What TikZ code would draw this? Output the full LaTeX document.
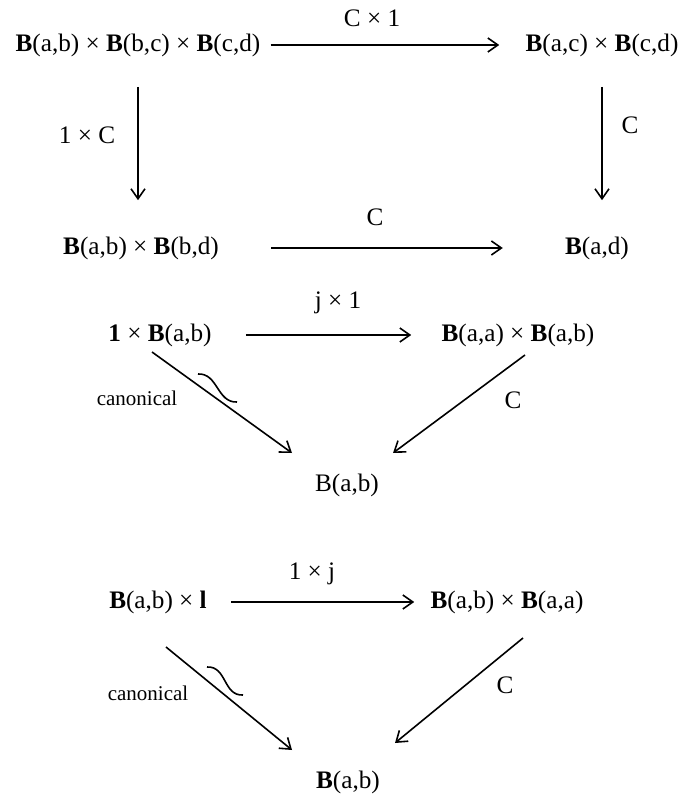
\documentclass[tikz,border=0pt]{standalone}
\usepackage{fontspec}
\setmainfont{Liberation Serif}
\usetikzlibrary{arrows.meta,positioning}
\tikzset{
  obj/.style = {inner sep=2pt, font=\fontsize{12.6}{15}\selectfont},
  lbl/.style = {inner sep=1pt, font=\fontsize{12.6}{15}\selectfont},
  note/.style = {inner sep=1pt, font=\fontsize{10.5}{12}\selectfont},
  arrow/.style = {line width=0.8pt, -{Straight Barb[length=5pt,width=7pt]}},
  iso/.style = {line width=0.8pt}
}

\begin{document}
\begin{tikzpicture}[x=0.5pt, y=-0.5pt]
        \useasboundingbox (0,0) rectangle (681,795);
        % associativity square
        \node[obj] (abcd) at (138,45) {\textbf{B}(a,b) × \textbf{B}(b,c) × \textbf{B}(c,d)};
        \node[obj] (acd) at (602,45) {\textbf{B}(a,c) × \textbf{B}(c,d)};
        \node[obj] (abd) at (141,248) {\textbf{B}(a,b) × \textbf{B}(b,d)};
        \node[obj] (ad) at (597,248) {\textbf{B}(a,d)};
        \node[lbl] (c1) at (372,18) {C × 1};
        \node[lbl] (1c) at (87,135) {1 × C};
        \node[lbl] (cr) at (630,125) {C};
        \node[lbl] (cb) at (375,217) {C};
        \draw[arrow, shorten <=3pt, shorten >=11pt] (abcd.east) -- (acd.west);
        \draw[arrow, shorten <=13pt, shorten >=16pt] (abcd.south) -- (abcd.south |- abd.north);
        \draw[arrow, shorten <=24pt, shorten >=29pt] (abd.east) -- (ad.west);
        \draw[arrow, shorten <=13pt, shorten >=16pt] (acd.south) -- (acd.south |- ad.north);
        % left unit triangle
        \node[obj] (oneab) at (160,335) {\textbf{1} × \textbf{B}(a,b)};
        \node[obj] (aaab) at (518,335) {\textbf{B}(a,a) × \textbf{B}(a,b)};
        \node[obj] (ab1) at (347,485) {B(a,b)};
        \node[lbl] (j1) at (338,303) {j × 1};
        \node[note] (can1) at (137,398) {canonical};
        \node[lbl] (cr1) at (513,400) {C};
        \draw[arrow, shorten <=15pt, shorten >=13pt] (oneab.east) -- (aaab.west);
        \draw[arrow] ([shift={(-8,17)}]oneab.center) -- ([shift={(-55,-32)}]ab1.center);
        \draw[arrow] ([shift={(7,20)}]aaab.center) -- ([shift={(46,-32)}]ab1.center);
        \draw[iso] (198,374) .. controls (218,373) and (217,403) .. (237,402);
        % right unit triangle
        \node[obj] (abl) at (158,602) {\textbf{B}(a,b) × \textbf{l}};
        \node[obj] (abaa) at (507,602) {\textbf{B}(a,b) × \textbf{B}(a,a)};
        \node[obj] (ab2) at (348,782) {\textbf{B}(a,b)};
        \node[lbl] (1j) at (312,574) {1 × j};
        \node[note] (can2) at (148,693) {canonical};
        \node[lbl] (cr2) at (505,685) {C};
        \draw[arrow, shorten <=10pt, shorten >=6pt] (abl.east) -- (abaa.west);
        \draw[arrow] ([shift={(8,45)}]abl.center) -- ([shift={(-56,-32)}]ab2.center);
        \draw[arrow] ([shift={(16,36)}]abaa.center) -- ([shift={(47,-39)}]ab2.center);
        \draw[iso] (207,667) .. controls (227,666) and (223,696) .. (243,695);
\end{tikzpicture}
\end{document}
